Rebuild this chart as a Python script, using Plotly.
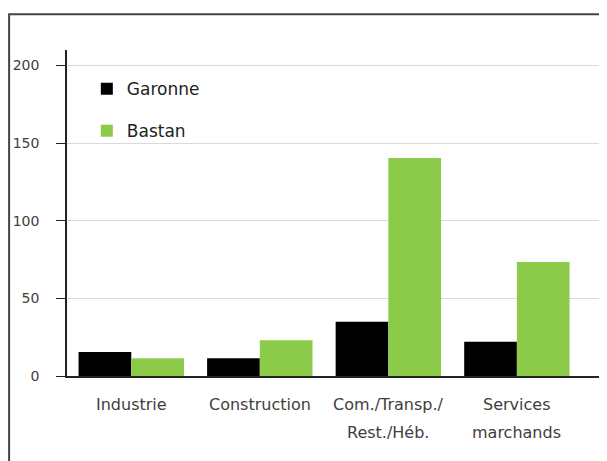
import plotly.graph_objects as go

categories = ["Industrie", "Construction", "Com./Transp./Rest./Héb.", "Services marchands"]
label_line1 = ["Industrie", "Construction", "Com./Transp./", "Services"]
label_line2 = ["", "", "Rest./Héb.", "marchands"]
garonne = [15.5, 11.5, 35, 22]
bastan = [11.5, 23, 140.5, 73.5]
y_ticks = [0, 50, 100, 150, 200]

FONT = "DejaVu Sans"
TXT = "#404040"

fig = go.Figure()
fig.add_trace(go.Bar(x=categories, y=garonne, name="Garonne", marker_color="#000000",
                     legendgroup="g", marker_line_width=0))
fig.add_trace(go.Bar(x=categories, y=bastan, name="Bastan", marker_color="#8CCB4A",
                     legendgroup="b", marker_line_width=0))

annotations = []
for c, l1, l2 in zip(categories, label_line1, label_line2):
    annotations.append(dict(x=c, xref="x", y=0, yref="paper", yshift=-28, text=l1,
                            showarrow=False, font=dict(family=FONT, size=16, color=TXT),
                            xanchor="center", yanchor="middle"))
    if l2:
        annotations.append(dict(x=c, xref="x", y=0, yref="paper", yshift=-56, text=l2,
                                showarrow=False, font=dict(family=FONT, size=16, color=TXT),
                                xanchor="center", yanchor="middle"))

fig.update_layout(
    width=607, height=461,
    margin=dict(l=59, r=12, t=42, b=93, autoexpand=False),
    paper_bgcolor="white", plot_bgcolor="white",
    barmode="group", bargap=0.18, bargroupgap=0,
    font=dict(family=FONT, size=14, color=TXT),
    showlegend=True,
    legend=dict(x=0.037, y=0.935, xanchor="left", yanchor="top", bgcolor="rgba(0,0,0,0)",
                traceorder="grouped", tracegroupgap=17, itemwidth=30,
                font=dict(family=FONT, size=17, color="#222222")),
    annotations=annotations,
    shapes=[dict(type="rect", xref="paper", yref="paper", x0=-0.108, x1=1.2,
                 y0=-0.6, y1=1.110, line=dict(color="#444444", width=2),
                 fillcolor="rgba(0,0,0,0)", layer="above")],
)
fig.update_xaxes(range=[-0.5, 3.67], showticklabels=False, ticks="", automargin=False,
                 showline=True, linecolor="#222222", linewidth=1.5, showgrid=False)
fig.update_yaxes(range=[0, 210], tickvals=y_ticks, ticks="outside", ticklen=9,
                 tickcolor="#222222", ticklabelstandoff=14, automargin=False,
                 showline=True, linecolor="#222222", linewidth=1.5,
                 showgrid=True, gridcolor="#D9D9D9", gridwidth=1, zeroline=False,
                 tickfont=dict(family=FONT, size=14, color=TXT))

fig.write_html("out.html")
